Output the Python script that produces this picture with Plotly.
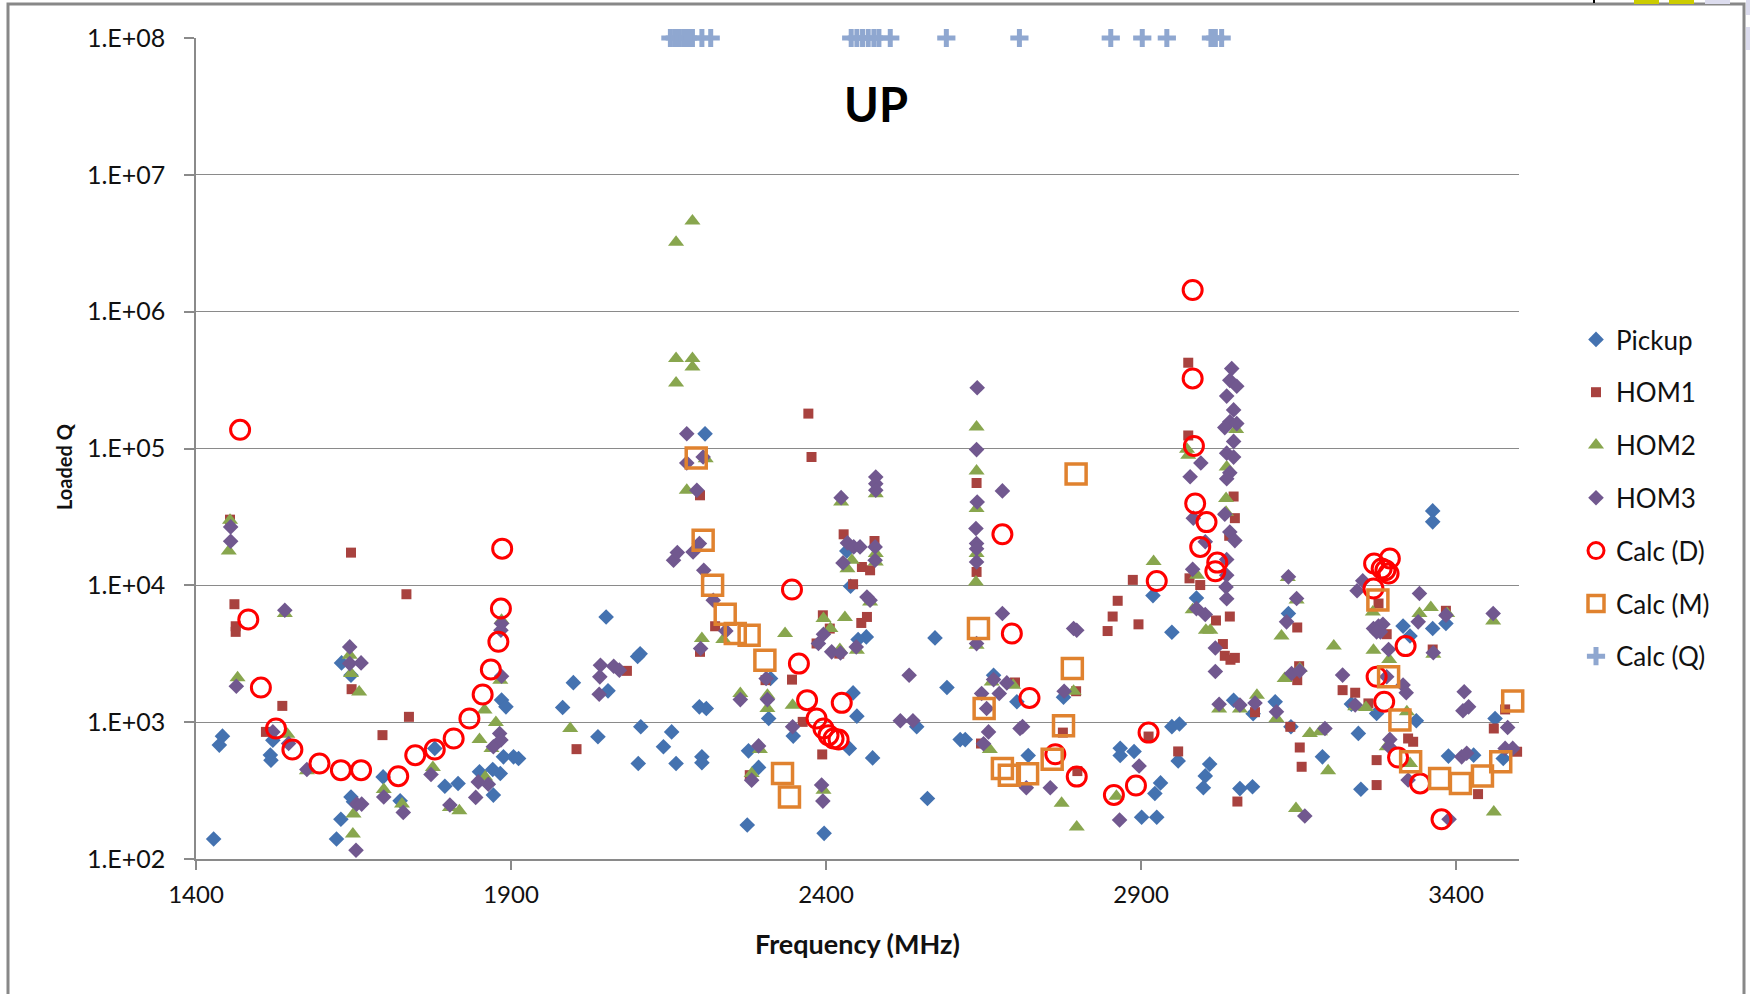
import plotly.graph_objects as go

# ---------------- measured data ----------------
pickup_f = [1428, 1437, 1442, 1518, 1519, 1522, 1631, 1646, 1623, 1630, 1646, 1650, 1697, 1724, 1779,
            1795, 1816, 1850, 1871, 1883, 1872, 1885, 1892, 1888, 1904, 1912,
            2208, 2051, 1999, 2054, 1982, 2038, 2105, 2101, 2106, 2102, 2142, 2155, 2162, 2199, 2210,
            2203, 2203, 2277, 2293, 2275, 2309, 2312, 2348, 2397, 2443, 2449, 2437, 2474, 2544, 2573,
            2592, 2561, 2613, 2439, 2464, 2433, 2451,
            2666, 2703, 2621,
            2721, 2777, 2867, 2867, 2889, 2919, 2949, 2949, 2961, 2959, 3009, 3002, 2999, 2931, 2922,
            2901, 2925, 2988, 3047, 3057, 3077, 3078,
            3363, 3363, 3113, 3134, 3138, 3188, 3245, 3249, 3234, 3274, 3316, 3327, 3363, 3384, 3337,
            3388, 3428, 3462, 3475]
pickup_q = [140, 680, 790, 575, 527, 738, 2710, 2200, 140, 195, 284, 262, 398, 266, 643,
            340, 356, 434, 451, 422, 293, 1450, 1294, 558, 558, 542,
            128000, 5875, 1945, 1694, 1279, 782, 3162, 3020, 925, 499, 661, 849, 499, 1294, 1259,
            558, 505, 617, 467, 177, 1064, 2084, 791, 154, 1637, 1107, 643, 548, 925, 4130,
            1791, 277, 746, 9840, 4200, 17800, 4018,
            2203, 1409, 746,
            571, 1524, 644, 571, 611, 8414, 4539, 927, 970, 521, 494, 405, 332, 360, 301,
            202, 202, 8072, 1445, 327, 337, 1153,
            34990, 29110, 1409, 6223, 925, 558, 828, 323, 1355, 1159, 5035, 4266, 4842, 5260, 1023,
            565, 574, 1064, 543]

hom1_f = [1454, 1461, 1463, 1463, 1646, 1734, 1537, 1511, 1647, 1738, 1696,
          2004, 2372, 2377, 2200, 2224, 2200, 2084, 2304, 2346, 2363, 2394, 2279, 2428, 2443, 2477,
          2457, 2470, 2395, 2385, 2465, 2456, 2406, 2421,
          2639, 2639, 2646, 2700,
          2887, 2863, 2855, 2847, 2896, 2975, 2975, 2977, 2994, 3047, 3049, 3040, 3041, 3019, 3030,
          3033, 3042, 3049, 2799, 2912, 2959, 3053, 3081, 2776, 2797,
          3148, 3151, 3148, 3137, 3152, 3155, 3220, 3240, 3261, 3274, 3274, 3277, 3290, 3324, 3332,
          3363, 3384, 3460, 3435, 3497, 3478]
hom1_q = [30200, 7278, 5023, 4571, 17340, 8610, 1315, 849, 1742, 1094, 804,
          635, 179900, 86700, 45500, 5023, 3266, 2371, 2028, 2046, 1005, 581, 410, 23600, 10190, 21090,
          13610, 12880, 6039, 3758, 5875, 5309, 4831, 3170,
          55980, 12530, 698, 1950,
          10960, 7709, 5916, 4634, 5188, 423600, 124500, 11250, 10050, 44570, 30970, 23010, 5916, 5534, 3724,
          3055, 2858, 2951, 439, 785, 611, 263, 1183, 839, 1683,
          4920, 2564, 2028, 925, 653, 472, 1714, 1641, 1371, 528, 347, 7362, 4395, 760, 719,
          3396, 6516, 899, 298, 608, 1239]

hom2_f = [1454, 1452, 1466, 1541, 1545, 1576, 1644, 1646, 1659, 1650, 1649, 1698, 1727, 1776, 1803,
          1818, 1850, 1858, 1876, 1869, 1883, 1885, 1859,
          1994, 2162, 2179, 2209, 2203, 2237, 2264, 2307, 2307, 2335, 2347, 2396, 2407, 2430, 2422,
          2449, 2396, 2295, 2282, 2424, 2479, 2434, 2441, 2470, 2479, 2479,
          2188, 2162, 2162, 2188, 2188,
          2639, 2639, 2639, 2639, 2638, 2639, 2660, 2663, 2697,
          2920, 2774, 2798, 2973, 2975, 2982, 3003, 2989, 3010, 3035, 3035, 3036, 3051, 3024, 3057,
          3084, 2793, 2861,
          3133, 3123, 3147, 3128, 3152, 3115, 3168, 3184, 3197, 3146, 3206, 3269, 3268, 3294, 3257,
          3240, 3290, 3327, 3342, 3360, 3364, 3386, 3459, 3460, 3322]
hom2_q = [29850, 17820, 2109, 6223, 817, 441, 3083, 2265, 1663, 213, 152, 322, 252, 467, 238,
          225, 746, 1225, 995, 643, 2028, 5559, 398,
          899, 300600, 49550, 84330, 4083, 4018, 1618, 1574, 1259, 4446, 1330, 5715, 4831, 5808, 3396,
          3357, 318, 631, 422, 40640, 46770, 13240, 15240, 7568, 17060, 14830,
          4590000, 3220000, 454000, 454000, 394500,
          143500, 68550, 36390, 17060, 10590, 3648, 631, 1968, 1862,
          14960, 255, 171, 98620, 89100, 6622, 4699, 11860, 4699, 43150, 34200, 73280, 137400, 1247, 1247,
          1574, 1683, 287,
          11400, 4256, 7798, 2084, 2466, 1064, 828, 851, 442, 234, 3597, 3357, 6397, 2871, 1279,
          1294, 661, 499, 6223, 6887, 3141, 6223, 5495, 221, 1191]

hom3_f = [1455, 1455, 1464, 1541, 1522, 1547, 1576, 1644, 1644, 1662, 1655, 1663, 1654, 1698, 1729,
          1773, 1803, 1844, 1848, 1864, 1872, 1882, 1884, 1885, 1885, 1884,
          2179, 2179, 2195, 2158, 2164, 2189, 2199, 2205, 2206, 2221, 2241, 2042, 2063, 2072, 2041,
          2040, 2201, 2264, 2307, 2305, 2293, 2282, 2347, 2393, 2395, 2424, 2479, 2479, 2479, 2434,
          2444, 2454, 2478, 2478, 2427, 2465, 2470, 2396, 2388, 2409, 2423, 2448, 2532, 2518, 2538,
          2640, 2639, 2640, 2638, 2639, 2639, 2639, 2680, 2680, 2639, 2655, 2647, 2658, 2650, 2666,
          2675, 2687, 2708,
          2778, 2798, 2793, 2712, 2756, 2718, 2866, 2897, 2995, 2978, 2983, 3002, 2982, 2988, 3002,
          3044, 3041, 3052, 3036, 3047, 3041, 3052, 3033, 3047, 3036, 3047, 3041, 3036, 3033, 3041,
          3049, 3036, 3036, 3035, 3036, 3018, 3018, 3024, 3057, 3081,
          3134, 3147, 3131, 3139, 3152, 3220, 3240, 3115, 3192, 3160, 3252, 3243, 3269, 3277, 3284,
          3280, 3274, 3293, 3290, 3316, 3321, 3295, 3294, 3324, 3342, 3340, 3364, 3384, 3413, 3420,
          3411, 3389, 3409, 3417, 3459, 3482, 3478, 3490]
hom3_q = [26730, 20990, 1832, 6577, 849, 698, 451, 3548, 2679, 2710, 252, 252, 116, 284, 219,
          415, 248, 282, 366, 352, 661, 826, 740, 2168, 5260, 4699,
          128200, 78340, 49550, 15240, 17340, 17540, 20180, 86700, 12880, 7780, 4645, 2606, 2564, 2399, 2143,
          1600, 3451, 1462, 1462, 2084, 671, 377, 925, 347, 265, 43750, 61940, 55340, 49550, 20420,
          19100, 19100, 19100, 15240, 14590, 8222, 7780, 4395, 3758, 3266, 3206, 3548, 2203, 1023, 1023,
          278000, 98170, 40640, 26000, 20180, 18530, 14830, 48980, 6223, 3750, 1259, 1618, 849, 695, 2046,
          1618, 1936, 899,
          1683, 4699, 4842, 927, 332, 332, 193, 478, 78340, 62090, 30970, 20840, 13090, 6761, 6124,
          383700, 314800, 285100, 241500, 191400, 157000, 152100, 142200, 112700, 92470, 86500, 66370, 60120, 33110, 24550,
          21230, 15450, 11860, 9727, 7980, 3483, 2344, 1352, 1334, 1380,
          11530, 8017, 5408, 2270, 2371, 2208, 1334, 1191, 899, 206, 10790, 9120, 4842, 5035, 5200,
          4571, 4571, 3396, 2148, 1866, 1641, 748, 661, 378, 8710, 5408, 3214, 6053, 1667, 1294,
          1211, 195, 558, 592, 6223, 914, 643, 643]

calc_d_f = [1470, 1483, 1503, 1527, 1553, 1596, 1630, 1662, 1721, 1748, 1779, 1809, 1834, 1855, 1868,
            1880, 1884, 1886,
            2346, 2357, 2370, 2425, 2385, 2396, 2404, 2412, 2420,
            2680, 2695, 2723, 2764, 2798, 2857, 2892, 2912, 2925, 2982, 2982, 2984, 2986, 3004, 2994,
            3021, 3018,
            3270, 3282, 3293, 3295, 3288, 3269, 3320, 3274, 3286, 3308, 3343, 3377]
calc_d_q = [137000, 5630, 1790, 899, 631, 499, 446, 446, 403, 574, 631, 760, 1064, 1592, 2427,
            3864, 6761, 18540,
            9310, 2679, 1449, 1384, 1064, 899, 804, 760, 746,
            23600, 4446, 1503, 583, 400, 294, 344, 839, 10740, 1440000, 325100, 104300, 39630, 28970, 19100,
            14660, 12680,
            14420, 13270, 12190, 15700, 12910, 9484, 3597, 2148, 1409, 552, 357, 195]

calc_m_f = [2194, 2205, 2220, 2240, 2256, 2278, 2303, 2331, 2342,
            2642, 2651, 2680, 2691, 2720, 2759, 2777, 2791, 2797,
            3276, 3293, 3311, 3328, 3374, 3407, 3442, 3471, 3490]
calc_m_q = [85300, 21330, 10000, 6152, 4446, 4315, 2838, 422, 284,
            4831, 1259, 458, 410, 419, 535, 940, 2472, 65010,
            7798, 2148, 1035, 514, 388, 357, 404, 514, 1426]

calc_q_f = [2153, 2160, 2167, 2174, 2181, 2188, 2203, 2217,
            2440, 2449, 2458, 2467, 2476, 2484, 2502,
            2591, 2707, 2852, 2902, 2941, 3011, 3018, 3028]
calc_q_q = [1e8] * len(calc_q_f)

y_tick_vals = [1e2, 1e3, 1e4, 1e5, 1e6, 1e7, 1e8]
y_tick_text = ["1.E+02", "1.E+03", "1.E+04", "1.E+05", "1.E+06", "1.E+07", "1.E+08"]
x_tick_vals = [1400, 1900, 2400, 2900, 3400]

# ---------------- figure ----------------
W, H = 1750, 994
PL, PR, PT, PB = 196, 1519, 38, 859   # plot area in page pixels
FONT = "Lato"
TXT = "#111111"


def px(x):
    return (x - PL) / (PR - PL)


def py(y):
    return (PB - y) / (PB - PT)


series = [
    ("Pickup", pickup_f, pickup_q, dict(symbol="diamond", size=12, color="#4472B0", line=dict(width=0))),
    ("HOM1", hom1_f, hom1_q, dict(symbol="square", size=10, color="#A8423F", line=dict(width=0))),
    ("HOM2", hom2_f, hom2_q, dict(symbol="triangle-up", size=14, color="#88A64E", line=dict(width=0))),
    ("HOM3", hom3_f, hom3_q, dict(symbol="diamond", size=12, color="#71588F", line=dict(width=0))),
    ("Calc (D)", calc_d_f, calc_d_q, dict(symbol="circle-open", size=19, color="#FF0000",
                                          line=dict(width=3, color="#FF0000"))),
    ("Calc (M)", calc_m_f, calc_m_q, dict(symbol="square-open", size=20, color="#E0822F",
                                          line=dict(width=3.5, color="#E0822F"))),
    ("Calc (Q)", calc_q_f, calc_q_q, dict(symbol="cross-thin-open", size=13, color="#8FA7D0",
                                          line=dict(width=5, color="#8FA7D0"))),
]

fig = go.Figure()
for name, xs, ys, mk in series:
    fig.add_trace(go.Scatter(x=xs, y=ys, mode="markers", name=name, legendgroup=name,
                             marker=mk, cliponaxis=False))

grid = "#8A8A8A"
fig.update_layout(
    width=W, height=H,
    margin=dict(l=PL, r=W - PR, t=PT, b=H - PB, pad=0),
    paper_bgcolor="white", plot_bgcolor="white",
    font=dict(family=FONT, color=TXT),
    showlegend=True,
    legend=dict(x=px(1576), y=py(316), xanchor="left", yanchor="top",
                font=dict(family=FONT, size=26, color=TXT),
                traceorder="grouped", tracegroupgap=16, itemsizing="trace",
                bgcolor="rgba(0,0,0,0)", borderwidth=0),
    xaxis=dict(range=[1400, 3500], tickvals=x_tick_vals, showgrid=False, zeroline=False,
               showline=True, linecolor=grid, linewidth=1.5, ticks="outside", ticklen=9,
               tickcolor=grid, tickwidth=1.5, ticklabelstandoff=4,
               tickfont=dict(family=FONT, size=24, color=TXT)),
    yaxis=dict(type="log", range=[2, 8], tickvals=y_tick_vals, ticktext=y_tick_text,
               showgrid=True, gridcolor=grid, gridwidth=1.3, zeroline=False,
               showline=True, linecolor=grid, linewidth=1.5, ticks="outside", ticklen=10,
               tickcolor=grid, tickwidth=1.5, ticklabelstandoff=14,
               tickfont=dict(family=FONT, size=25, color=TXT)),
)

fig.add_annotation(text="<b>UP</b>", x=px(876), y=py(104), xref="paper", yref="paper",
                   xanchor="center", yanchor="middle",
                   showarrow=False, font=dict(family=FONT, size=47, color="#000000"))
fig.add_annotation(text="<b>Frequency (MHz)</b>", x=0.5, y=py(944), xref="paper", yref="paper",
                   xanchor="center", yanchor="middle",
                   showarrow=False, font=dict(family=FONT, size=27, color=TXT))
fig.add_annotation(text="<b>Loaded Q</b>", x=px(64), y=py(467), xref="paper", yref="paper",
                   xanchor="center", yanchor="middle", textangle=-90,
                   showarrow=False, font=dict(family=FONT, size=20, color=TXT))

# chart-area border and the bits of the sheet showing at the top right
shapes = [
    dict(type="rect", xref="paper", yref="paper", x0=px(8), x1=px(1744), y0=py(1002), y1=py(4),
         line=dict(color="#888888", width=3), fillcolor="rgba(0,0,0,0)", layer="below"),
    dict(type="line", xref="paper", yref="paper", x0=px(1594), x1=px(1594), y0=py(3), y1=py(0),
         line=dict(color="#000000", width=2)),
    dict(type="rect", xref="paper", yref="paper", x0=px(1634), x1=px(1659), y0=py(4), y1=py(0),
         line=dict(width=0), fillcolor="#CCCC00"),
    dict(type="rect", xref="paper", yref="paper", x0=px(1669), x1=px(1694), y0=py(4), y1=py(0),
         line=dict(width=0), fillcolor="#CCCC00"),
    dict(type="rect", xref="paper", yref="paper", x0=px(1705), x1=px(1730), y0=py(4), y1=py(0),
         line=dict(width=0), fillcolor="#DCDCEE"),
    dict(type="rect", xref="paper", yref="paper", x0=px(1746), x1=px(1750), y0=py(15), y1=py(0),
         line=dict(width=0), fillcolor="#DCDCEE"),
    dict(type="rect", xref="paper", yref="paper", x0=px(1746), x1=px(1750), y0=py(50), y1=py(27),
         line=dict(width=0), fillcolor="#DCDCEE"),
]
fig.update_layout(shapes=shapes)

fig.write_html("out.html")
